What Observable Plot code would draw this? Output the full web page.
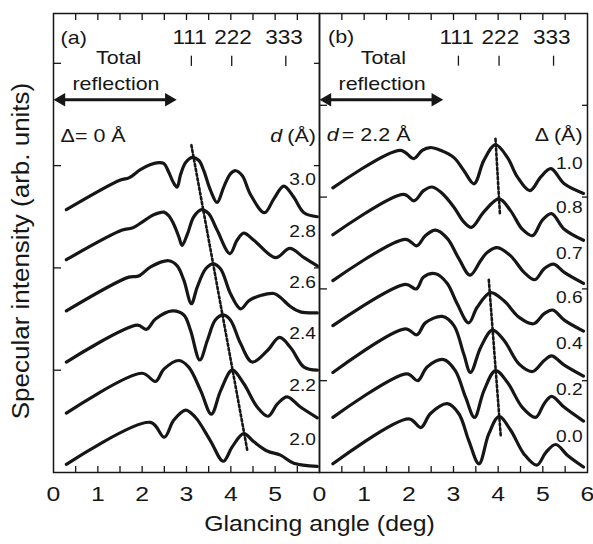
<!DOCTYPE html>
<html><head><meta charset="utf-8">
<script src="https://cdn.jsdelivr.net/npm/d3@7"></script>
<script src="https://cdn.jsdelivr.net/npm/@observablehq/plot@0.6"></script>
<style>
body{margin:0;background:#fff;}
#chart{position:relative;width:593px;height:544px;}
#chart svg{position:absolute;left:0;top:0;}
</style></head><body><div id="chart"></div>
<script>
// ---------- data (x: glancing angle deg, y: arb. units) ----------
const xMinorTicks = [0.5,1,1.5,2,2.5,3,3.5,4,4.5,5,5.5];
const xLabelsA = [0,1,2,3,4,5];
const xLabelsB = [0,1,2,3,4,5,6];
const yTicksA = [1,2,3,4];
const yTicksB = [1,2,3,4];
const reflLabels = ["111","222","333"];
const reflPos = [3.11,4.02,5.24];
const reflTextPos = [3.07,4.05,5.20];

// panel (a): Δ = 0 Å, spacing d
const dLabels = ["3.0","2.8","2.6","2.4","2.2","2.0"];
const dLabelY = [2.86,2.36,1.86,1.356,0.85,0.32];
const a30 = [[0.29,2.57],[1.51,2.86],[1.70,2.88],[1.96,2.96],[2.19,3.01],[2.375,3.03],[2.49,3.02],[2.60,2.935],[2.71,2.83],[2.79,2.79],[2.865,2.91],[2.98,3.03],[3.13,3.08],[3.28,3.05],[3.39,2.95],[3.54,2.76],[3.69,2.64],[3.84,2.79],[3.99,2.92],[4.11,2.95],[4.26,2.90],[4.44,2.72],[4.76,2.54],[4.97,2.675],[5.195,2.80],[5.42,2.69],[5.65,2.54],[5.95,2.50]];
const a28 = [[0.29,2.08],[1.55,2.37],[1.775,2.39],[2.04,2.46],[2.26,2.52],[2.49,2.545],[2.60,2.51],[2.71,2.43],[2.83,2.30],[2.90,2.22],[3.02,2.33],[3.165,2.50],[3.34,2.57],[3.50,2.53],[3.69,2.37],[3.98,2.14],[4.14,2.27],[4.29,2.34],[4.52,2.27],[5.01,2.10],[5.33,2.19],[5.65,2.10],[5.95,2.02]];
const a26 = [[0.29,1.58],[1.70,1.91],[1.92,1.92],[2.19,2.01],[2.60,2.07],[2.79,2.02],[2.94,1.88],[3.11,1.65],[3.24,1.81],[3.43,1.99],[3.60,2.04],[3.77,1.99],[3.99,1.75],[4.22,1.60],[4.41,1.68],[4.67,1.73],[4.97,1.75],[5.12,1.71],[5.35,1.62],[5.57,1.57],[5.95,1.56]];
const a24 = [[0.29,1.08],[1.89,1.44],[2.10,1.40],[2.30,1.50],[2.68,1.58],[2.94,1.54],[3.09,1.39],[3.30,1.10],[3.47,1.29],[3.65,1.49],[3.83,1.54],[3.99,1.49],[4.22,1.26],[4.48,1.08],[4.82,1.19],[5.10,1.32],[5.35,1.22],[5.65,1.03],[5.95,1.00]];
const a22 = [[0.29,0.58],[2.00,0.97],[2.30,0.89],[2.49,1.01],[2.83,1.095],[3.05,1.03],[3.32,0.80],[3.56,0.57],[3.77,0.80],[4.03,1.00],[4.29,0.87],[4.595,0.64],[4.84,0.55],[5.05,0.67],[5.27,0.74],[5.57,0.64],[5.95,0.535]];
const a20 = [[0.29,0.08],[2.19,0.49],[2.50,0.345],[2.71,0.51],[2.98,0.61],[3.20,0.54],[3.54,0.31],[3.83,0.11],[4.03,0.25],[4.29,0.38],[4.52,0.30],[4.82,0.21],[5.12,0.17],[5.42,0.09],[5.95,0.06]];
const dotA = [[3.11,3.20],[4.37,0.22]];

// panel (b): d = 2.2 Å, roughness Δ
const deltaLabels = ["1.0","0.8","0.7","0.6","0.4","0.2","0.0"];
const deltaLabelY = [3.37,2.89,2.39,1.91,1.40,0.90,0.39];
const b10 = [[0.30,3.10],[1.81,3.51],[2.11,3.42],[2.30,3.51],[2.48,3.54],[2.71,3.51],[3.01,3.43],[3.23,3.29],[3.46,3.145],[3.68,3.40],[3.94,3.57],[4.21,3.43],[4.43,3.22],[4.71,3.07],[4.955,3.22],[5.18,3.31],[5.48,3.145],[5.91,3.04]];
const b08 = [[0.30,2.59],[1.88,3.03],[2.12,2.96],[2.33,3.07],[2.52,3.11],[2.75,3.04],[3.01,2.89],[3.23,2.73],[3.40,2.67],[3.68,2.84],[4.02,2.98],[4.28,2.85],[4.54,2.65],[4.77,2.58],[4.99,2.75],[5.195,2.82],[5.48,2.65],[5.91,2.53]];
const b07 = [[0.30,2.09],[1.92,2.54],[2.18,2.47],[2.37,2.58],[2.60,2.64],[2.86,2.55],[3.12,2.33],[3.37,2.15],[3.61,2.31],[3.76,2.40],[3.98,2.45],[4.28,2.36],[4.58,2.18],[4.82,2.10],[5.03,2.22],[5.24,2.27],[5.48,2.18],[5.91,2.06]];
const b06 = [[0.30,1.60],[1.92,2.05],[2.17,2.00],[2.33,2.13],[2.60,2.165],[2.86,2.06],[3.08,1.84],[3.34,1.63],[3.53,1.80],[3.83,1.96],[4.13,1.87],[4.47,1.69],[4.79,1.62],[5.03,1.73],[5.22,1.77],[5.48,1.66],[5.91,1.54]];
const b04 = [[0.30,1.09],[1.92,1.565],[2.18,1.50],[2.37,1.63],[2.75,1.70],[3.01,1.60],[3.23,1.29],[3.38,1.09],[3.61,1.365],[3.87,1.55],[4.13,1.44],[4.47,1.18],[4.77,1.10],[5.03,1.22],[5.195,1.27],[5.48,1.17],[5.91,1.05]];
const b02 = [[0.30,0.60],[1.96,1.075],[2.20,1.00],[2.41,1.15],[2.78,1.23],[3.04,1.11],[3.27,0.82],[3.47,0.60],[3.68,0.89],[3.94,1.11],[4.21,0.98],[4.54,0.71],[4.84,0.60],[5.03,0.75],[5.195,0.83],[5.48,0.71],[5.91,0.56]];
const b00 = [[0.30,0.095],[2.00,0.585],[2.27,0.49],[2.48,0.64],[2.86,0.75],[3.12,0.64],[3.34,0.35],[3.57,0.095],[3.79,0.42],[4.02,0.61],[4.28,0.46],[4.58,0.20],[4.865,0.08],[5.07,0.22],[5.29,0.305],[5.555,0.185],[5.91,0.06]];
const dotB1 = [[3.94,3.635],[4.04,2.81]];
const dotB2 = [[3.79,2.10],[4.06,0.385]];

// ---------- build ----------
const INK = "#161616";
const FONT = "'Liberation Sans', Arial, Helvetica, sans-serif";
const toRows = (series, names) => series.flatMap((s, k) => s.map(([x, y]) => ({x, y, k: names[k]})));

function panel(cfg) {
  const rows = toRows(cfg.curves, cfg.names);
  const dots = toRows(cfg.dotted, cfg.dotted.map((_, i) => "d" + i));
  const labRows = cfg.names.map((n, i) => ({t: n, y: cfg.nameY[i]}));
  const ann = cfg.ann;
  return Plot.plot({
    width: 593, height: 544,
    marginLeft: cfg.ml, marginRight: cfg.mr, marginTop: 13, marginBottom: 72,
    style: {background: "transparent", fontFamily: FONT, color: INK, overflow: "visible"},
    x: {domain: [0, 6]},
    y: {domain: [0, cfg.yMax]},
    marks: [
      Plot.axisX({anchor: "bottom", ticks: xMinorTicks, tickSize: -6, tickFormat: () => "", label: null, strokeWidth: 1.3}),
      Plot.axisX({anchor: "top", ticks: xMinorTicks, tickSize: -6, tickFormat: () => "", label: null, strokeWidth: 1.3}),
      Plot.axisY({anchor: "left", ticks: cfg.yTicks, tickSize: -8, tickFormat: () => "", label: null, strokeWidth: 1.3}),
      Plot.axisY({anchor: "right", ticks: cfg.yTicks, tickSize: -6, tickFormat: () => "", label: null, strokeWidth: 1.3}),
      Plot.axisX({anchor: "bottom", ticks: cfg.xLabels, tickSize: 0, tickPadding: 14, fontSize: 21, tickFormat: d => String(d), label: null}),
      Plot.frame({stroke: INK, strokeWidth: 1.5}),
      Plot.line(rows, {x: "x", y: "y", z: "k", curve: "catmull-rom", stroke: INK, strokeWidth: 3.2, strokeLinejoin: "round"}),
      Plot.line(dots, {x: "x", y: "y", z: "k", stroke: INK, strokeWidth: 2.6, strokeDasharray: "2.4,2.4"}),
      Plot.text(labRows, {x: cfg.nameX, y: "y", text: "t", textAnchor: "end", fontSize: 17, fill: INK}),
      // reflection markers
      Plot.text(reflLabels, {x: (d, i) => reflTextPos[i], y: ann.reflY, text: d => d, fontSize: 20, fill: INK}),
      Plot.ruleX(reflPos, {y1: ann.tick1, y2: ann.tick2, stroke: INK, strokeWidth: 1.3}),
      // panel tag
      Plot.text([ann.tag], {x: ann.tagX, y: ann.reflY, text: d => d, textAnchor: "start", fontSize: 19, fill: INK}),
      // total reflection arrow
      Plot.text(["Total"], {x: ann.totalX, y: ann.totalY, text: d => d, fontSize: 19, fill: INK}),
      Plot.text(["reflection"], {x: ann.reflX, y: ann.reflTY, text: d => d, fontSize: 19, fill: INK}),
      Plot.link([0], {x1: 0.12, x2: ann.arrowEnd - 0.12, y1: ann.arrowY, y2: ann.arrowY, stroke: INK, strokeWidth: 3}),
      Plot.dot([0], {x: 0, y: ann.arrowY, symbol: "triangle", r: 5, rotate: -90, dx: 7.8, fill: INK, stroke: null}),
      Plot.dot([0], {x: ann.arrowEnd, y: ann.arrowY, symbol: "triangle", r: 5, rotate: 90, dx: -7.8, fill: INK, stroke: null}),
      ...cfg.extra
    ]
  });
}

const svgA = panel({
  ml: 53, mr: 274, yMax: 4.487, yTicks: yTicksA, xLabels: xLabelsA,
  curves: [a30, a28, a26, a24, a22, a20], names: dLabels, nameY: dLabelY, nameX: 5.92,
  dotted: [dotA],
  ann: {reflY: 4.25, tick1: 4.07, tick2: 3.97, tag: "(a)", tagX: 0.16,
        totalX: 1.47, totalY: 4.057, reflX: 1.41, reflTY: 3.80, arrowY: 3.643, arrowEnd: 2.78},
  extra: [
    Plot.text(["Δ= 0 Å"], {x: 0.16, y: 3.294, text: d => d, textAnchor: "start", fontSize: 19, fill: INK}),
    Plot.text(["(Å)"], {x: 5.92, y: 3.294, text: d => d, textAnchor: "end", fontSize: 19, fill: INK}),
    Plot.text(["d"], {x: 5.16, y: 3.294, text: d => d, textAnchor: "end", fontSize: 19, fontStyle: "italic", fill: INK}),
    Plot.text(["Specular intensity (arb. units)"], {frameAnchor: "left", textAnchor: "middle", rotate: -90, dx: -32, dy: 8, text: d => d, fontSize: 23, fill: INK}),
    Plot.text(["Glancing angle (deg)"], {x: 6, frameAnchor: "bottom", textAnchor: "middle", dy: 58, text: d => d, fontSize: 22, fill: INK})
  ]
});

const svgB = panel({
  ml: 319, mr: 6, yMax: 5, yTicks: yTicksB, xLabels: xLabelsB,
  curves: [b10, b08, b07, b06, b04, b02, b00], names: deltaLabels, nameY: deltaLabelY, nameX: 5.89,
  dotted: [dotB1, dotB2],
  ann: {reflY: 4.74, tick1: 4.535, tick2: 4.426, tag: "(b)", tagX: 0.19,
        totalX: 1.43, totalY: 4.52, reflX: 1.40, reflTY: 4.237, arrowY: 4.06, arrowEnd: 2.77},
  extra: [
    Plot.text(["d"], {x: 0.16, y: 3.68, text: d => d, textAnchor: "start", fontSize: 19, fontStyle: "italic", fill: INK}),
    Plot.text(["= 2.2 Å"], {x: 0.50, y: 3.68, text: d => d, textAnchor: "start", fontSize: 19, fill: INK}),
    Plot.text(["Δ (Å)"], {x: 5.89, y: 3.68, text: d => d, textAnchor: "end", fontSize: 19, fill: INK})
  ]
});

// widen glyphs about their anchor, as in the original typesetting
function stretch(svg) {
  svg.querySelectorAll("text").forEach(t => {
    const g = t.closest("g[aria-label]");
    const lab = g ? g.getAttribute("aria-label") : "";
    const s = lab === "x-axis tick label" ? 1.18 : 1.13;
    const tr = t.getAttribute("transform") || "";
    t.setAttribute("transform", (tr + ` scale(${s},1)`).trim());
  });
}
stretch(svgA); stretch(svgB);
const host = document.getElementById("chart");
host.appendChild(svgA);
host.appendChild(svgB);
</script>
</body></html>
